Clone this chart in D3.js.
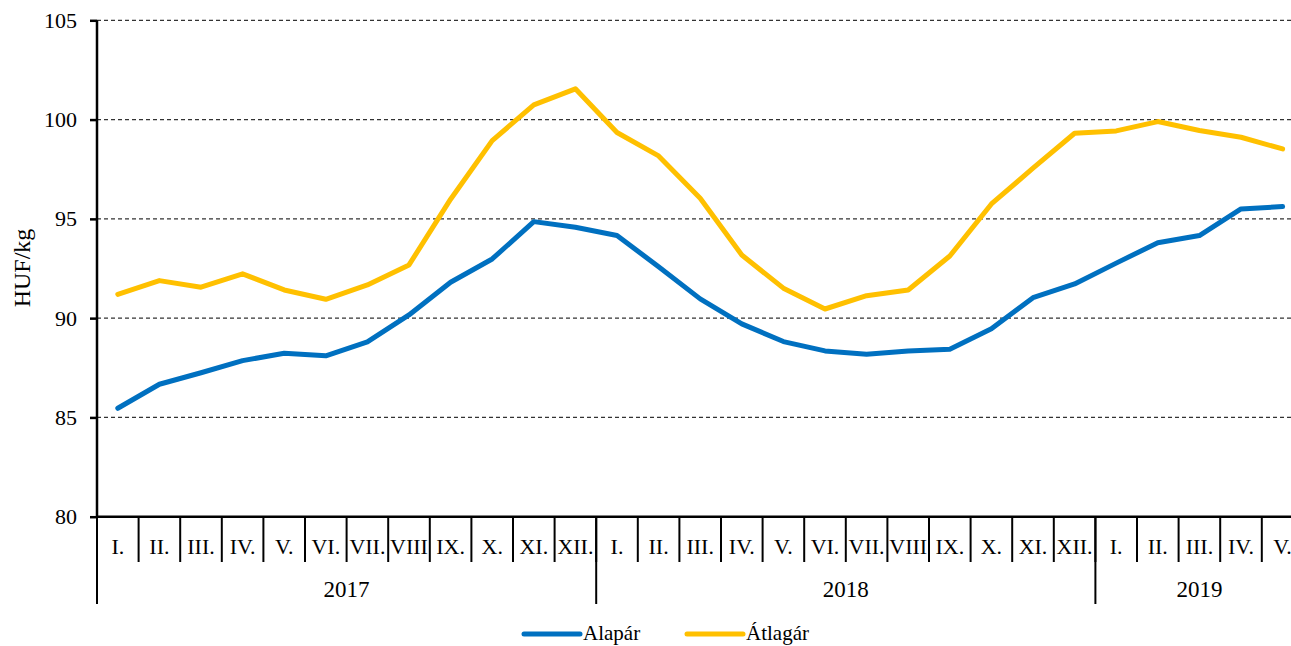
<!DOCTYPE html>
<html>
<head>
<meta charset="utf-8">
<script src="https://cdn.jsdelivr.net/npm/d3@7"></script>
<style>
  html, body { margin: 0; padding: 0; background: #fff; }
  svg { display: block; font-family: "Liberation Serif", "Times New Roman", serif; }
</style>
</head>
<body>
<svg id="chart" width="1291" height="646"></svg>
<script>
const years = ["2017", "2018", "2019"];
const yearMonthCounts = [12, 12, 5];
const monthLabels = ["I.", "II.", "III.", "IV.", "V.", "VI.", "VII.", "VIII", "IX.", "X.", "XI.", "XII."];
const seriesNames = ["Alapár", "Átlagár"];
const seriesColors = ["#0070C0", "#FFC000"];
const alapar = [85.46, 86.67, 87.25, 87.86, 88.23, 88.10, 88.80, 90.16, 91.81, 92.98, 94.86, 94.58,
                94.16, 92.59, 90.97, 89.71, 88.82, 88.35, 88.18, 88.35, 88.43, 89.46, 91.03, 91.72,
                92.77, 93.80, 94.16, 95.50, 95.62];
const atlagar = [91.20, 91.89, 91.56, 92.23, 91.42, 90.95, 91.67, 92.68, 95.99, 98.94, 100.74, 101.55,
                 99.35, 98.17, 96.04, 93.18, 91.51, 90.46, 91.13, 91.42, 93.13, 95.75, 97.55, 99.31,
                 99.43, 99.90, 99.45, 99.11, 98.52];
const yTicks = [80, 85, 90, 95, 100, 105];
const yLabel = "HUF/kg";

// build categories
const categories = [];
years.forEach((y, i) => {
  for (let m = 0; m < yearMonthCounts[i]; m++) categories.push({ key: y + "-" + m, year: y, label: monthLabels[m] });
});

const svg = d3.select("#chart");
const left = 97, band = 41.6;
const x = d3.scaleBand().domain(categories.map(d => d.key)).range([left, left + band * categories.length]).padding(0);
const y = d3.scaleLinear().domain([80, 105]).range([516.7, 20.3]);
const bw = x.bandwidth();

// gridlines
svg.append("g").selectAll("line").data(yTicks.filter(t => t !== 80)).join("line")
  .attr("x1", left).attr("x2", 1291)
  .attr("y1", d => y(d)).attr("y2", d => y(d))
  .attr("stroke", "#333").attr("stroke-width", 1.2).attr("stroke-dasharray", "4,3");

// y axis
const yAxis = d3.axisLeft(y).tickValues(yTicks).tickSize(7).tickPadding(13).tickFormat(d3.format("d"));
const gy = svg.append("g").attr("transform", `translate(${left},0)`).call(yAxis);
gy.select(".domain").attr("stroke", "#000").attr("stroke-width", 2.5).attr("d", `M0,${y(105)}V${y(80)}`);
gy.selectAll(".tick line").attr("stroke", "#000").attr("stroke-width", 2.5);
gy.selectAll(".tick text").attr("font-size", 22).attr("font-family", "Liberation Serif").attr("fill", "#000");

// y label
svg.append("text").attr("transform", `translate(30,268) rotate(-90)`)
  .attr("text-anchor", "middle").attr("font-size", 24).text(yLabel);

// x axis line
svg.append("line").attr("x1", left).attr("x2", 1291).attr("y1", y(80)).attr("y2", y(80))
  .attr("stroke", "#000").attr("stroke-width", 2.5);

// month separators
const gx = svg.append("g");
gx.selectAll("line.m").data(categories.slice(1)).join("line").attr("class", "m")
  .attr("x1", d => x(d.key)).attr("x2", d => x(d.key))
  .attr("y1", y(80)).attr("y2", 562)
  .attr("stroke", "#000").attr("stroke-width", 2);
gx.selectAll("text.m").data(categories).join("text").attr("class", "m")
  .attr("x", d => x(d.key) + bw / 2).attr("y", 554)
  .attr("text-anchor", "middle").attr("font-size", 22).text(d => d.label);

// year separators & labels
const yearStarts = years.map(yv => categories.find(c => c.year === yv).key);
gx.selectAll("line.y").data(yearStarts).join("line").attr("class", "y")
  .attr("x1", d => x(d)).attr("x2", d => x(d))
  .attr("y1", y(80)).attr("y2", 604)
  .attr("stroke", "#000").attr("stroke-width", 2);
gx.selectAll("text.y").data(years).join("text").attr("class", "y")
  .attr("x", (d, i) => {
    const cs = categories.filter(c => c.year === d);
    const a = x(cs[0].key), b = x(cs[cs.length - 1].key) + bw;
    return (a + b) / 2;
  })
  .attr("y", 597).attr("text-anchor", "middle").attr("font-size", 23).text(d => d);

// lines
const line = d3.line().x((d, i) => x(categories[i].key) + bw / 2).y(d => y(d));
[alapar, atlagar].forEach((s, i) => {
  svg.append("path").datum(s).attr("d", line)
    .attr("fill", "none").attr("stroke", seriesColors[i]).attr("stroke-width", 5)
    .attr("stroke-linejoin", "round").attr("stroke-linecap", "round");
});

// legend
const legendX = [524, 687];
seriesNames.forEach((n, i) => {
  const g = svg.append("g");
  g.append("line").attr("x1", legendX[i]).attr("x2", legendX[i] + 56).attr("y1", 634).attr("y2", 634)
    .attr("stroke", seriesColors[i]).attr("stroke-width", 5).attr("stroke-linecap", "round");
  g.append("text").attr("x", legendX[i] + 59).attr("y", 640).attr("font-size", 21).text(n);
});
</script>
</body>
</html>
